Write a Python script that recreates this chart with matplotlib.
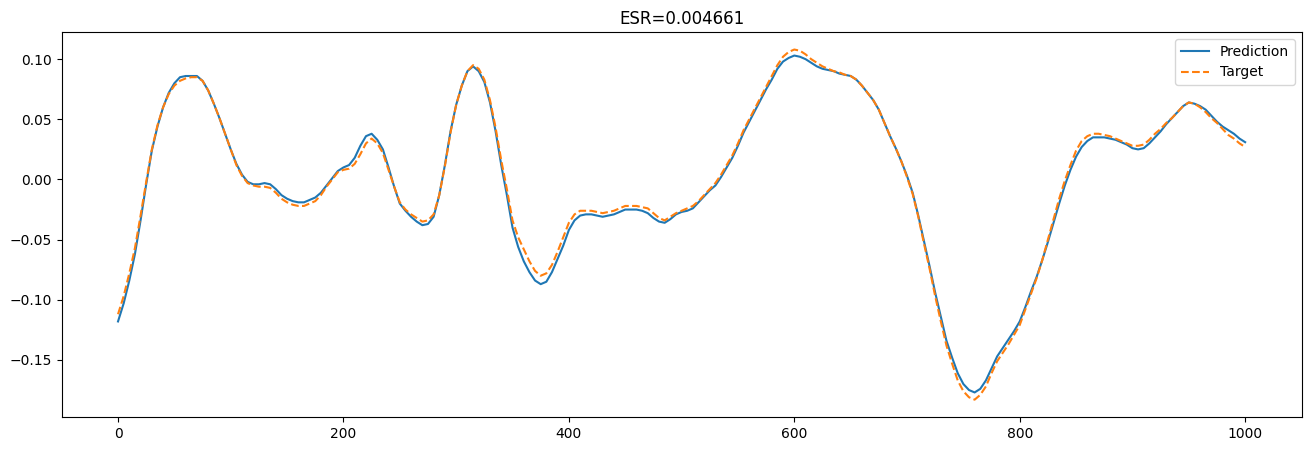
import numpy as np
from matplotlib import pyplot as plt

# sample positions (every 5 samples)
steps = list(range(0, 1001, 5))

prediction = [
    -0.118, -0.103, -0.084, -0.062, -0.034, -0.004, 0.024, 0.044, 0.060, 0.072,  # 0-45
    0.080, 0.085, 0.086, 0.086, 0.086, 0.082, 0.074, 0.063, 0.051, 0.038,        # 50-95
    0.025, 0.013, 0.004, -0.002, -0.004, -0.004, -0.003, -0.004, -0.008, -0.013, # 100-145
    -0.016, -0.018, -0.019, -0.019, -0.017, -0.015, -0.011, -0.005, 0.001, 0.007,  # 150-195
    0.010, 0.012, 0.018, 0.028, 0.036, 0.038, 0.033, 0.025, 0.010, -0.006,       # 200-245
    -0.020, -0.026, -0.031, -0.035, -0.038, -0.037, -0.031, -0.013, 0.012, 0.040,  # 250-295
    0.062, 0.078, 0.090, 0.094, 0.090, 0.081, 0.064, 0.040, 0.012, -0.013,       # 300-345
    -0.040, -0.056, -0.068, -0.077, -0.084, -0.087, -0.085, -0.077, -0.066, -0.055,  # 350-395
    -0.042, -0.034, -0.030, -0.029, -0.029, -0.030, -0.031, -0.030, -0.029, -0.027,  # 400-445
    -0.025, -0.025, -0.025, -0.026, -0.028, -0.032, -0.035, -0.036, -0.033, -0.029,  # 450-495
    -0.027, -0.026, -0.024, -0.019, -0.014, -0.009, -0.005, 0.002, 0.010, 0.018,     # 500-545
    0.028, 0.039, 0.048, 0.057, 0.066, 0.075, 0.083, 0.092, 0.098, 0.101,        # 550-595
    0.103, 0.102, 0.100, 0.097, 0.094, 0.092, 0.091, 0.090, 0.088, 0.087,        # 600-645
    0.086, 0.083, 0.078, 0.072, 0.066, 0.058, 0.047, 0.036, 0.026, 0.015,        # 650-695
    0.003, -0.011, -0.030, -0.051, -0.072, -0.094, -0.114, -0.134, -0.148, -0.161,   # 700-745
    -0.170, -0.175, -0.177, -0.174, -0.167, -0.157, -0.147, -0.140, -0.133, -0.126,  # 750-795
    -0.118, -0.106, -0.093, -0.081, -0.067, -0.052, -0.036, -0.020, -0.005, 0.008,   # 800-845
    0.019, 0.027, 0.032, 0.035, 0.035, 0.035, 0.034, 0.033, 0.031, 0.029,        # 850-895
    0.026, 0.025, 0.026, 0.030, 0.035, 0.040, 0.046, 0.051, 0.056, 0.061,        # 900-945
    0.064, 0.063, 0.061, 0.058, 0.053, 0.048, 0.044, 0.041, 0.038, 0.034,        # 950-995
    0.031,
]

target = [
    -0.112, -0.097, -0.078, -0.057, -0.030, -0.002, 0.025, 0.045, 0.060, 0.071,  # 0-45
    0.078, 0.082, 0.084, 0.085, 0.085, 0.082, 0.074, 0.063, 0.051, 0.038,        # 50-95
    0.025, 0.012, 0.003, -0.003, -0.005, -0.006, -0.006, -0.007, -0.011, -0.016, # 100-145
    -0.019, -0.021, -0.022, -0.022, -0.020, -0.018, -0.013, -0.006, 0.000, 0.006,  # 150-195
    0.008, 0.009, 0.013, 0.021, 0.030, 0.034, 0.030, 0.022, 0.008, -0.006,       # 200-245
    -0.019, -0.025, -0.029, -0.032, -0.035, -0.034, -0.029, -0.013, 0.011, 0.039,  # 250-295
    0.062, 0.078, 0.090, 0.095, 0.092, 0.083, 0.066, 0.043, 0.016, -0.008,       # 300-345
    -0.034, -0.048, -0.058, -0.068, -0.076, -0.080, -0.078, -0.071, -0.060, -0.048,  # 350-395
    -0.036, -0.029, -0.026, -0.026, -0.026, -0.027, -0.028, -0.027, -0.026, -0.024,  # 400-445
    -0.022, -0.022, -0.022, -0.023, -0.024, -0.028, -0.032, -0.034, -0.031, -0.028,  # 450-495
    -0.026, -0.024, -0.022, -0.018, -0.013, -0.008, -0.003, 0.004, 0.012, 0.020,     # 500-545
    0.030, 0.041, 0.050, 0.059, 0.068, 0.077, 0.086, 0.095, 0.102, 0.106,        # 550-595
    0.108, 0.107, 0.104, 0.100, 0.097, 0.094, 0.092, 0.090, 0.089, 0.087,        # 600-645
    0.086, 0.083, 0.078, 0.072, 0.066, 0.058, 0.047, 0.036, 0.026, 0.015,        # 650-695
    0.002, -0.012, -0.031, -0.053, -0.074, -0.097, -0.118, -0.138, -0.153, -0.167,   # 700-745
    -0.176, -0.181, -0.183, -0.179, -0.172, -0.161, -0.151, -0.144, -0.137, -0.129,  # 750-795
    -0.121, -0.108, -0.095, -0.082, -0.067, -0.050, -0.033, -0.016, -0.001, 0.012,   # 800-845
    0.024, 0.032, 0.036, 0.038, 0.038, 0.037, 0.036, 0.034, 0.032, 0.030,        # 850-895
    0.028, 0.028, 0.029, 0.033, 0.038, 0.042, 0.047, 0.051, 0.056, 0.061,        # 900-945
    0.064, 0.063, 0.060, 0.056, 0.051, 0.047, 0.042, 0.037, 0.034, 0.030,        # 950-995
    0.027,
]

esr = 0.004661

fig = plt.figure(figsize=(13.12, 4.51), dpi=100)
ax = fig.add_axes([0.047, 0.075, 0.945, 0.854])

ax.plot(steps, prediction, label='Prediction')
ax.plot(steps, target, '--', label='Target')
ax.set_title(f"ESR={esr:.6f}")
ax.legend(loc='upper right')

fig.savefig('out.png', dpi=100)
